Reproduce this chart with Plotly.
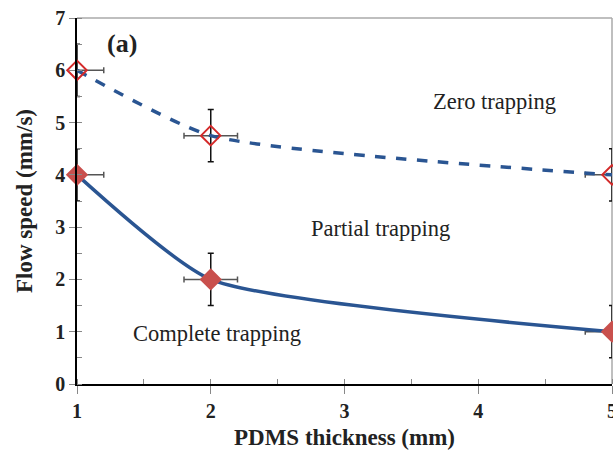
import plotly.graph_objects as go

thickness = [1, 2, 5]
zero_speed = [6, 4.75, 4]
complete_speed = [4, 2, 1]
x_err = [0.2, 0.2, 0.2]
y_err = [0.5, 0.5, 0.5]
x_ticks = [1, 2, 3, 4, 5]
y_ticks = [0, 1, 2, 3, 4, 5, 6, 7]

SERIF = "Liberation Serif, Times New Roman, serif"
BLUE = "#2a5592"

fig = go.Figure()
for ys, dash, sym, mcol in [
    (zero_speed, "dash", "diamond-open", "#d42a2a"),
    (complete_speed, "solid", "diamond", "#c9504d"),
]:
    fig.add_trace(go.Scatter(
        x=thickness, y=ys, mode="lines+markers",
        line=dict(color=BLUE, width=3.5, dash=dash, shape="spline", smoothing=0.55),
        marker=dict(symbol=sym, size=15, color=mcol, line=dict(color=mcol, width=2)),
        error_x=dict(type="data", array=x_err, color="#555555", thickness=1.5, width=3),
        error_y=dict(type="data", array=y_err, color="#111111", thickness=1.5, width=3),
        showlegend=False, cliponaxis=False,
    ))

annots = [
    dict(x=1.34, y=6.52, text="<b>(a)</b>", size=26),
    dict(x=4.12, y=5.41, text="Zero trapping", size=22.5),
    dict(x=3.27, y=2.98, text="Partial trapping", size=22.5),
    dict(x=2.05, y=0.96, text="Complete trapping", size=22.5),
]
for a in annots:
    fig.add_annotation(x=a["x"], y=a["y"], text=a["text"], showarrow=False,
                       font=dict(family=SERIF, size=a["size"], color="#222222"))

fig.add_shape(type="line", xref="paper", yref="paper", x0=0, x1=1, y0=1, y1=1,
              line=dict(color="#aaaaaa", width=1.5), layer="below")
fig.add_shape(type="line", xref="paper", yref="paper", x0=1, x1=1, y0=0, y1=1,
              line=dict(color="#aaaaaa", width=1.5), layer="below")

fig.update_layout(
    width=613, height=454,
    margin=dict(l=77, r=1, t=18, b=70),
    plot_bgcolor="white", paper_bgcolor="white",
    font=dict(family=SERIF, color="#222222"),
    xaxis=dict(
        range=[1, 5], tickvals=x_ticks, ticktext=[f"<b>{v}</b>" for v in x_ticks],
        automargin=False, ticklabeloverflow="allow",
        showgrid=False, zeroline=False, showline=True, linecolor="black", linewidth=1.5,
        ticks="outside", ticklen=8, tickcolor="#888888",
        tickfont=dict(family=SERIF, size=20, color="#222222"),
        minor=dict(dtick=0.5, ticks="inside", ticklen=5, tickcolor="#888888", showgrid=False),
        title=dict(text="<b>PDMS thickness (mm)</b>", font=dict(family=SERIF, size=23), standoff=8),
    ),
    yaxis=dict(
        range=[0, 7], tickvals=y_ticks, ticktext=[f"<b>{v}</b>" for v in y_ticks],
        automargin=False, ticklabeloverflow="allow",
        showgrid=False, zeroline=False, showline=True, linecolor="black", linewidth=1.5,
        ticks="outside", ticklen=6, tickcolor="#888888",
        tickfont=dict(family=SERIF, size=20, color="#222222"),
        minor=dict(dtick=0.5, ticks="inside", ticklen=5, tickcolor="#888888", showgrid=False),
        title=dict(text="<b>Flow speed (mm/s)</b>", font=dict(family=SERIF, size=23), standoff=16),
    ),
)
fig.write_html(
    "out.html",
    config={"displayModeBar": False},
    post_script="document.body.style.margin='0';document.body.style.overflow='hidden';",
)
